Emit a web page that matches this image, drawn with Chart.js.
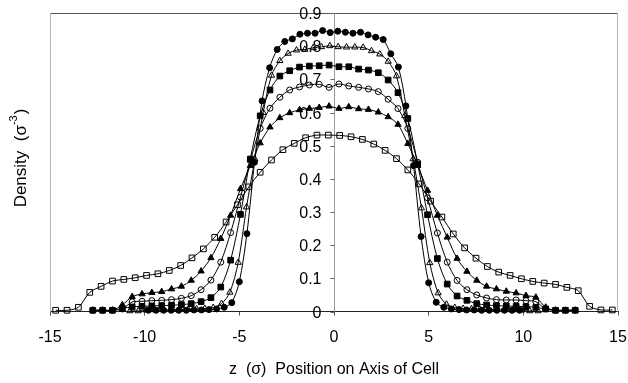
<!DOCTYPE html>
<html><head><meta charset="utf-8">
<script src="https://cdn.jsdelivr.net/npm/chart.js@4/dist/chart.umd.min.js"></script>
<style>html,body{margin:0;padding:0;background:#fff}#wrap{width:628px;height:383px;position:relative}</style>
</head><body><div id="wrap"><canvas id="c" width="628" height="383"></canvas></div>
<script>
const xTickValues = [-15, -10, -5, 0, 5, 10, 15];
const xTickLabels = ['-15', '-10', '-5', '0', '5', '10', '15'];
const yTickValues = [0, 0.1, 0.2, 0.3, 0.4, 0.5, 0.6, 0.7, 0.8, 0.9];
const yTickLabels = ['0', '0.1', '0.2', '0.3', '0.4', '0.5', '0.6', '0.7', '0.8', '0.9'];
const xTitle = 'z  (σ)  Position on Axis of Cell';
const yTitleMain = 'Density  (σ';
const yTitleSup = '-3';
const yTitleEnd = ')';

const zFilledCircle = [-9.8,-9.4,-9.0,-8.6,-8.2,-7.8,-7.4,-7.0,-6.6,-6.2,-5.8,-5.4,-5.0,-4.6,-4.2,-3.8,-3.4,-3.0,-2.6,-2.2,-1.8,-1.4,-1.0,-0.6,-0.2,0.2,0.6,1.0,1.4,1.8,2.2,2.6,3.0,3.4,3.8,4.2,4.6,5.0,5.4,5.8,6.2,6.6,7.0,7.4,7.8,8.2,8.6,9.0,9.4,9.8];
const dFilledCircle = [0.004,0.004,0.004,0.004,0.004,0.004,0.005,0.005,0.006,0.008,0.013,0.027,0.09,0.235,0.45,0.635,0.735,0.79,0.814,0.822,0.836,0.839,0.839,0.847,0.841,0.845,0.842,0.839,0.842,0.834,0.827,0.82,0.777,0.737,0.62,0.44,0.226,0.087,0.028,0.013,0.008,0.006,0.005,0.005,0.004,0.004,0.004,0.004,0.004,0.004];

const zOpenTriangle = [-10.78,-10.34,-9.9,-9.46,-9.02,-8.58,-8.14,-7.7,-7.26,-6.82,-6.38,-5.94,-5.5,-5.06,-4.62,-4.18,-3.74,-3.3,-2.86,-2.42,-1.98,-1.54,-1.1,-0.66,-0.22,0.22,0.66,1.1,1.54,1.98,2.42,2.86,3.3,3.74,4.18,4.62,5.06,5.5,5.94,6.38,6.82,7.26,7.7,8.14,8.58,9.02,9.46,9.9,10.34,10.78];
const dOpenTriangle = [0.002,0.002,0.004,0.005,0.005,0.006,0.006,0.007,0.008,0.009,0.012,0.024,0.058,0.148,0.315,0.46,0.6,0.712,0.756,0.778,0.788,0.79,0.795,0.798,0.801,0.798,0.797,0.797,0.796,0.786,0.776,0.754,0.71,0.59,0.46,0.312,0.147,0.056,0.022,0.012,0.009,0.008,0.007,0.006,0.006,0.005,0.005,0.004,0.002,0.002];

const zMid = [-12.74,-12.22,-11.7,-11.18,-10.66,-10.14,-9.62,-9.1,-8.58,-8.06,-7.54,-7.02,-6.5,-5.98,-5.46,-4.94,-4.42,-3.9,-3.38,-2.86,-2.34,-1.82,-1.3,-0.78,-0.26,0.26,0.78,1.3,1.82,2.34,2.86,3.38,3.9,4.42,4.94,5.46,5.98,6.5,7.02,7.54,8.06,8.58,9.1,9.62,10.14,10.66,11.18,11.7,12.22,12.74];
const dFilledSquare = [0.004,0.004,0.004,0.01,0.014,0.016,0.017,0.018,0.019,0.021,0.024,0.03,0.042,0.074,0.155,0.293,0.46,0.59,0.668,0.71,0.726,0.737,0.74,0.741,0.743,0.738,0.738,0.731,0.728,0.72,0.698,0.66,0.582,0.445,0.292,0.16,0.083,0.047,0.034,0.024,0.02,0.018,0.017,0.016,0.015,0.013,0.008,0.004,0.004,0.004];
const dOpenCircle = [0.004,0.004,0.004,0.008,0.029,0.031,0.033,0.034,0.036,0.04,0.048,0.066,0.095,0.149,0.238,0.345,0.455,0.552,0.613,0.646,0.668,0.677,0.683,0.685,0.676,0.686,0.68,0.676,0.671,0.663,0.64,0.612,0.552,0.45,0.343,0.237,0.149,0.094,0.066,0.05,0.041,0.036,0.035,0.035,0.033,0.03,0.008,0.004,0.004,0.004];
const dFilledTriangle = [0.004,0.004,0.004,0.02,0.045,0.053,0.057,0.06,0.068,0.076,0.094,0.122,0.162,0.22,0.29,0.37,0.44,0.508,0.556,0.584,0.599,0.608,0.612,0.615,0.619,0.612,0.617,0.611,0.609,0.601,0.587,0.564,0.506,0.44,0.365,0.29,0.224,0.16,0.121,0.094,0.076,0.068,0.061,0.056,0.048,0.043,0.013,0.004,0.004,0.004];

const zOpenSquare = [-14.7,-14.1,-13.5,-12.9,-12.3,-11.7,-11.1,-10.5,-9.9,-9.3,-8.7,-8.1,-7.5,-6.9,-6.3,-5.7,-5.1,-4.5,-3.9,-3.3,-2.7,-2.1,-1.5,-0.9,-0.3,0.3,0.9,1.5,2.1,2.7,3.3,3.9,4.5,5.1,5.7,6.3,6.9,7.5,8.1,8.7,9.3,9.9,10.5,11.1,11.7,12.3,12.9,13.5,14.1,14.7];
const dOpenSquare = [0.004,0.004,0.013,0.058,0.076,0.092,0.097,0.102,0.109,0.114,0.124,0.139,0.162,0.189,0.224,0.27,0.322,0.376,0.42,0.457,0.488,0.507,0.524,0.532,0.532,0.531,0.527,0.519,0.505,0.486,0.461,0.427,0.385,0.333,0.285,0.234,0.192,0.161,0.136,0.119,0.109,0.099,0.091,0.086,0.082,0.073,0.063,0.016,0.005,0.005];

const FONT = '"Liberation Sans", Arial, Helvetica, sans-serif';

function pts(xs, ys) { return xs.map((v, i) => ({x: v, y: ys[i]})); }
function ds(xs, ys, style, radius, filled) {
  return {
    data: pts(xs, ys),
    borderColor: '#000', borderWidth: 1,
    pointStyle: style, pointRadius: radius,
    pointBackgroundColor: filled ? '#000' : 'rgba(0,0,0,0)',
    pointBorderColor: '#000', pointBorderWidth: 1,
    tension: 0.3, fill: false, clip: false
  };
}

const decor = {
  id: 'decor',
  beforeDatasetsDraw(chart) {
    const {ctx, chartArea: a, scales: {x, y}} = chart;
    ctx.save();
    ctx.lineWidth = 1;
    ctx.strokeStyle = '#555';
    ctx.beginPath(); ctx.moveTo(a.left, a.top + 0.5); ctx.lineTo(a.right, a.top + 0.5); ctx.stroke();
    ctx.strokeStyle = '#b5b5b5';
    ctx.beginPath();
    ctx.moveTo(a.left + 0.5, a.top); ctx.lineTo(a.left + 0.5, a.bottom);
    ctx.moveTo(a.right - 0.5, a.top); ctx.lineTo(a.right - 0.5, a.bottom);
    ctx.stroke();
    const x0 = Math.round(x.getPixelForValue(0)) + 0.5;
    ctx.strokeStyle = '#999';
    ctx.beginPath(); ctx.moveTo(x0, a.top); ctx.lineTo(x0, a.bottom); ctx.stroke();
    ctx.font = '16px ' + FONT;
    ctx.fillStyle = '#000';
    ctx.textAlign = 'right';
    ctx.textBaseline = 'middle';
    ctx.strokeStyle = '#666';
    yTickValues.forEach((v, i) => {
      const py = Math.round(y.getPixelForValue(v)) + 0.5;
      ctx.beginPath(); ctx.moveTo(x0 - 4, py); ctx.lineTo(x0, py); ctx.stroke();
      ctx.fillText(yTickLabels[i], x0 - 13, py + 1);
    });
    // y title
    ctx.translate(21, 158);
    ctx.rotate(-Math.PI / 2);
    ctx.textAlign = 'left';
    ctx.textBaseline = 'middle';
    const mainF = '17px ' + FONT, supF = '11px ' + FONT;
    ctx.font = mainF; const w1 = ctx.measureText(yTitleMain).width; const w3 = ctx.measureText(yTitleEnd).width;
    ctx.font = supF; const w2 = ctx.measureText(yTitleSup).width;
    let sx = -(w1 + w2 + w3 + 1) / 2;
    ctx.font = mainF; ctx.fillText(yTitleMain, sx, 0); sx += w1;
    ctx.font = supF; ctx.fillText(yTitleSup, sx, -7); sx += w2 + 1;
    ctx.font = mainF; ctx.fillText(yTitleEnd, sx, 0);
    ctx.restore();
  }
};

new Chart(document.getElementById('c'), {
  type: 'line',
  data: {
    datasets: [
      ds(zFilledCircle, dFilledCircle, 'circle', 3, true),
      ds(zOpenTriangle, dOpenTriangle, 'triangle', 3.6, false),
      ds(zMid, dFilledSquare, 'rect', 4, true),
      ds(zMid, dOpenCircle, 'circle', 3, false),
      ds(zMid, dFilledTriangle, 'triangle', 3.6, true),
      ds(zOpenSquare, dOpenSquare, 'rect', 4, false)
    ]
  },
  options: {
    responsive: false, animation: false, devicePixelRatio: 1,
    layout: {padding: {left: 50, right: 10, top: 13, bottom: 0}},
    plugins: {legend: {display: false}, tooltip: {enabled: false}},
    scales: {
      x: {
        type: 'linear', min: -15, max: 15,
        afterBuildTicks: (s) => { s.ticks = xTickValues.map(v => ({value: v})); },
        afterFit: (s) => { s.paddingLeft = 0; s.paddingRight = 0; },
        ticks: {
          callback: (v, i) => xTickLabels[i],
          font: {size: 16, family: FONT}, color: '#000', padding: 12, maxRotation: 0
        },
        grid: {display: true, drawOnChartArea: false, drawTicks: true, tickLength: 4, color: '#555'},
        border: {display: true, color: '#222', width: 1},
        title: {display: true, text: xTitle, font: {size: 16, family: FONT}, color: '#000', padding: {top: 1, bottom: 4}}
      },
      y: {
        type: 'linear', min: 0, max: 0.9, display: false
      }
    }
  },
  plugins: [decor]
});
</script>
</body></html>
